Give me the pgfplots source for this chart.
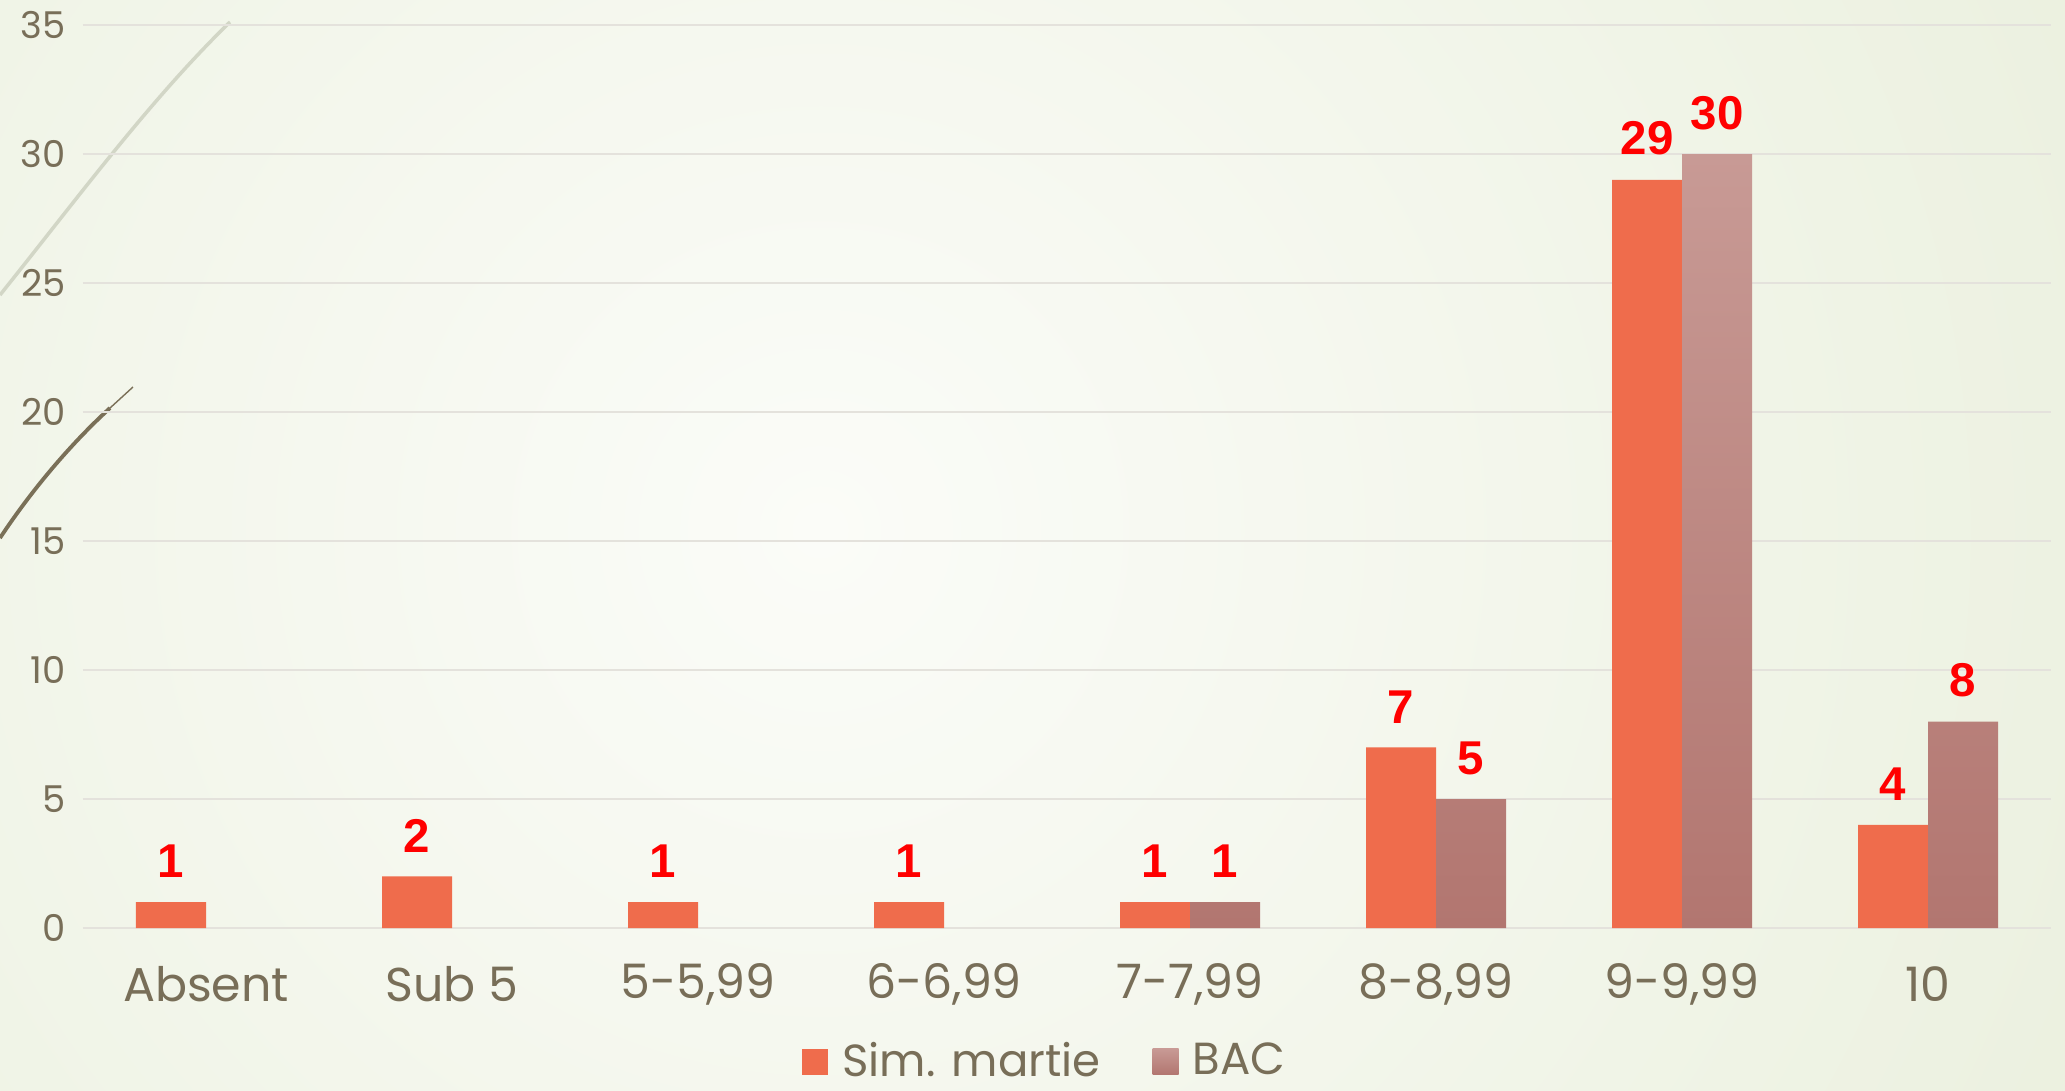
\documentclass[border=0pt]{standalone}
\usepackage{pgfplots}
\pgfplotsset{compat=1.18}
\usepackage{fontspec}
\setmainfont{Poppins}
\newfontfamily\lblfont{Liberation Sans}
\definecolor{txt}{HTML}{786E58}
\definecolor{simc}{HTML}{EF6C4C}
\definecolor{bactop}{HTML}{C89A95}
\definecolor{bacbot}{HTML}{B27670}
\definecolor{gridc}{HTML}{E4E2DC}
\definecolor{bgout}{HTML}{E1E9CF}
\definecolor{bgin}{HTML}{FBFCF8}
\definecolor{curvelight}{HTML}{D2D6C6}
\definecolor{curvedark}{HTML}{7A7058}
\begin{document}
\begin{tikzpicture}[x=1cm,y=1cm]
\useasboundingbox (0,0) rectangle (20.65,10.9);
\fill[bgout] (0,0) rectangle (20.65,10.9);
\begin{scope}
\clip (0,0) rectangle (20.65,10.9);
\shade[inner color=bgin, outer color=bgout] (8.2,5.6) circle (23);
\draw[curvelight, line width=1pt] (0,7.95) .. controls (0.8,8.95) and (1.5,9.9) .. (2.3,10.68);
\draw[curvedark, line width=1.1pt] (0,5.52) .. controls (0.35,6.05) and (0.75,6.5) .. (1.1,6.82);
\draw[curvedark, line width=0.4pt] (1.1,6.82) -- (1.33,7.03);
\end{scope}
\begin{axis}[
  at={(0.83cm,1.62cm)}, anchor=south west,
  scale only axis, width=19.68cm, height=9.03cm,
  xmin=-0.5, xmax=7.5, ymin=0, ymax=35,
  ybar=0pt, bar width=0.7cm,
  axis line style={draw=none},
  major tick length=0pt,
  ymajorgrids, grid style={gridc, line width=0.8pt},
  ytick={0,5,...,35},
  xtick={0,...,7},
  xticklabels={Absent,Sub 5,{5-5,99},{6-6,99},{7-7,99},{8-8,99},{9-9,99},10},
  /pgf/number format/assume math mode=true,
  yticklabel style={font=\fontsize{10.5}{12}\selectfont, text=txt, anchor=east, xshift=-0.5mm},
  xticklabel style={font=\fontsize{13.5}{15}\selectfont, text=txt, anchor=center, yshift=-5.6mm},
  nodes near coords,
  every node near coord/.append style={font=\lblfont\bfseries\fontsize{13.5}{14}\selectfont, text=red, yshift=1.2mm},
  legend style={at={(0.49,-0.148)}, anchor=center, draw=none, fill=none,
    legend columns=2, font=\fontsize{12.8}{14}\selectfont, text=txt,
    /tikz/every even column/.append style={column sep=4.5mm}},
  legend image code/.code={\path[#1, draw=none] (0cm,-0.13cm) rectangle (0.26cm,0.13cm); \path (0.33cm,0cm);},
  clip=false,
]
\addplot[fill=simc, draw=none] coordinates {(0,1) (1,2) (2,1) (3,1) (4,1) (5,7) (6,29) (7,4)};
\addplot[top color=bactop, bottom color=bacbot, draw=none] coordinates {(4,1) (5,5) (6,30) (7,8)};
\legend{Sim. martie, BAC}
\end{axis}
\end{tikzpicture}
\end{document}
